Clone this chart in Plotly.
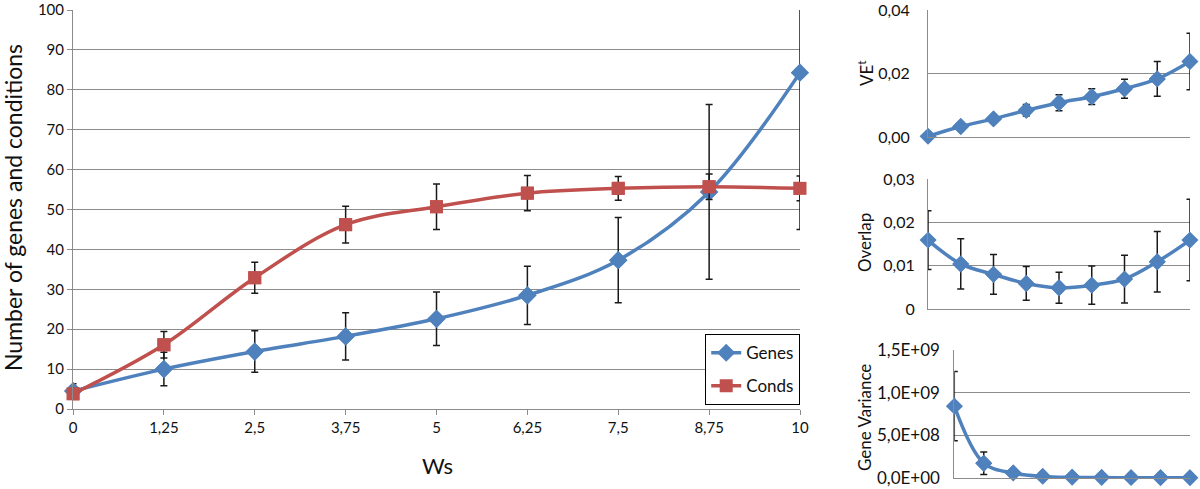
import plotly.graph_objects as go

# ---------------- data ----------------
ws = [0, 1.25, 2.5, 3.75, 5, 6.25, 7.5, 8.75, 10]
ws_labels = ["0", "1,25", "2,5", "3,75", "5", "6,25", "7,5", "8,75", "10"]

genes = [4.5, 10.0, 14.4, 18.2, 22.6, 28.5, 37.3, 54.4, 84.3]
genes_err = [1.8, 4.2, 5.2, 5.9, 6.7, 7.3, 10.7, 21.9, 39.3]
conds = [3.8, 16.1, 32.9, 46.2, 50.7, 54.1, 55.3, 55.7, 55.3]
conds_err = [0.8, 3.3, 3.9, 4.6, 5.7, 4.4, 3.0, 3.2, 3.1]

ve = [0.0002, 0.0033, 0.0057, 0.0084, 0.0108, 0.0127, 0.0152, 0.0183, 0.0238]
ve_err = [0.0002, 0.0004, 0.0007, 0.0018, 0.0025, 0.0025, 0.0030, 0.0055, 0.0089]

overlap = [0.0159, 0.0104, 0.0080, 0.0059, 0.0049, 0.0055, 0.0069, 0.0109, 0.0159]
overlap_err = [0.0068, 0.0058, 0.0046, 0.0039, 0.0036, 0.0044, 0.0055, 0.0070, 0.0094]

gvar = [8.42e8, 1.73e8, 5.8e7, 1.9e7, 8e6, 5e6, 4e6, 3e6, 3e6]
gvar_err = [4.06e8, 1.33e8, 1.5e7, 4e6, 2e6, 1e6, 1e6, 1e6, 1e6]

y_main_ticks = [0, 10, 20, 30, 40, 50, 60, 70, 80, 90, 100]
ve_ticks = [0, 0.02, 0.04]
ve_labels = ["0,00", "0,02", "0,04"]
ov_ticks = [0, 0.01, 0.02, 0.03]
ov_labels = ["0", "0,01", "0,02", "0,03"]
gv_ticks = [0, 5e8, 1e9, 1.5e9]
gv_labels = ["0,0E+00", "5,0E+08", "1,0E+09", "1,5E+09"]

# ---------------- style ----------------
BLUE = "#4F81BD"
RED = "#C0504D"
GRID = "#8C8C8C"
FONT = "Lato"
ERR = dict(type="data", color="#1a1a1a", thickness=1.5, width=3.5)

fig = go.Figure()


def add_series(x, y, err, color, symbol, size, name, xa, ya, legend):
    fig.add_trace(go.Scatter(
        x=x, y=y, mode="lines+markers", name=name, legendgroup=name,
        line=dict(color=color, width=3.5, shape="spline", smoothing=1),
        marker=dict(color=color, symbol=symbol, size=size),
        error_y=dict(array=err, **ERR),
        xaxis=xa, yaxis=ya, showlegend=legend, cliponaxis=True,
    ))
    fig.add_trace(go.Scatter(
        x=x, y=y, mode="markers", name=name, legendgroup=name,
        marker=dict(color=color, symbol=symbol, size=size),
        xaxis=xa, yaxis=ya, showlegend=False, cliponaxis=False,
        hoverinfo="skip",
    ))


add_series(ws, genes, genes_err, BLUE, "diamond", 14, "Genes", "x", "y", True)
add_series(ws, conds, conds_err, RED, "square", 13, "Conds", "x", "y", True)
add_series(ws, ve, ve_err, BLUE, "diamond", 13, "VE", "x2", "y2", False)
add_series(ws, overlap, overlap_err, BLUE, "diamond", 13, "Overlap", "x3", "y3", False)
add_series(ws, gvar, gvar_err, BLUE, "diamond", 13, "GeneVar", "x4", "y4", False)

H = 489.0
W = 1200.0


def yd(top, bottom):
    return [(H - bottom) / H, (H - top) / H]


common_x = dict(range=[0, 10], showgrid=False, zeroline=False, showline=True,
                linecolor=GRID, linewidth=1, fixedrange=True, automargin=False,
                ticklabeloverflow="allow")
common_y = dict(showgrid=True, gridcolor=GRID, gridwidth=1, zeroline=False,
                showline=True, linecolor=GRID, linewidth=1, automargin=False,
                ticklabeloverflow="allow",
                tickfont=dict(family=FONT, size=16, color="#111"))

fig.update_layout(
    width=1200, height=489,
    margin=dict(l=0, r=0, t=0, b=0, pad=0, autoexpand=False),
    paper_bgcolor="white", plot_bgcolor="white",
    font=dict(family=FONT, color="#111"),
    xaxis=dict(common_x, domain=[73 / W, 800 / W], tickvals=ws, ticktext=ws_labels,
               ticks="outside", ticklen=5, tickcolor=GRID,
               tickfont=dict(family=FONT, size=15, color="#111")),
    yaxis=dict(common_y, domain=yd(10, 409), range=[0, 100], tickvals=y_main_ticks,
               ticks="outside", ticklen=5, tickcolor=GRID,
               tickfont=dict(family=FONT, size=15, color="#111")),
    xaxis2=dict(common_x, domain=[928 / W, 1190 / W], showticklabels=False, anchor="y2"),
    yaxis2=dict(common_y, domain=yd(10, 137), range=[0, 0.04], tickvals=ve_ticks,
                ticktext=ve_labels, anchor="x2", ticklabelstandoff=14),
    xaxis3=dict(common_x, domain=[928 / W, 1190 / W], showticklabels=False, anchor="y3"),
    yaxis3=dict(common_y, domain=yd(179, 309), range=[0, 0.03], tickvals=ov_ticks,
                ticktext=ov_labels, anchor="x3", ticklabelstandoff=9),
    xaxis4=dict(common_x, domain=[954.3 / W, 1190 / W], showticklabels=False, anchor="y4"),
    yaxis4=dict(common_y, domain=yd(350, 478), range=[0, 1.5e9], tickvals=gv_ticks,
                ticktext=gv_labels, anchor="x4", ticklabelstandoff=10,
                tickfont=dict(family=FONT, size=17, color="#111")),
    legend=dict(x=800 / W, xanchor="right", y=(H - 405) / H, yanchor="bottom",
                bordercolor="#000", borderwidth=1.2, bgcolor="white",
                font=dict(family=FONT, size=17, color="#111"),
                tracegroupgap=8, itemwidth=30),
    showlegend=True,
)

ann = [
    dict(text="Number of genes and conditions", x=13 / W, y=(H - 208) / H, textangle=-90, size=23),
    dict(text="Ws", x=437 / W, y=(H - 465) / H, size=22),
    dict(text="VE<sup>t</sup>", x=865 / W, y=(H - 73) / H, textangle=-90, size=17),
    dict(text="Overlap", x=864 / W, y=(H - 243) / H, textangle=-90, size=17),
    dict(text="Gene Variance", x=864 / W, y=(H - 418) / H, textangle=-90, size=17),
]
for a in ann:
    size = a.pop("size")
    fig.add_annotation(xref="paper", yref="paper", showarrow=False,
                       xanchor="center", yanchor="middle",
                       font=dict(family=FONT, color="#111", size=size), **a)

fig.write_html("out.html",
               config={"displayModeBar": False},
               post_script="document.body.style.margin='0px';document.body.style.overflow='hidden';")
